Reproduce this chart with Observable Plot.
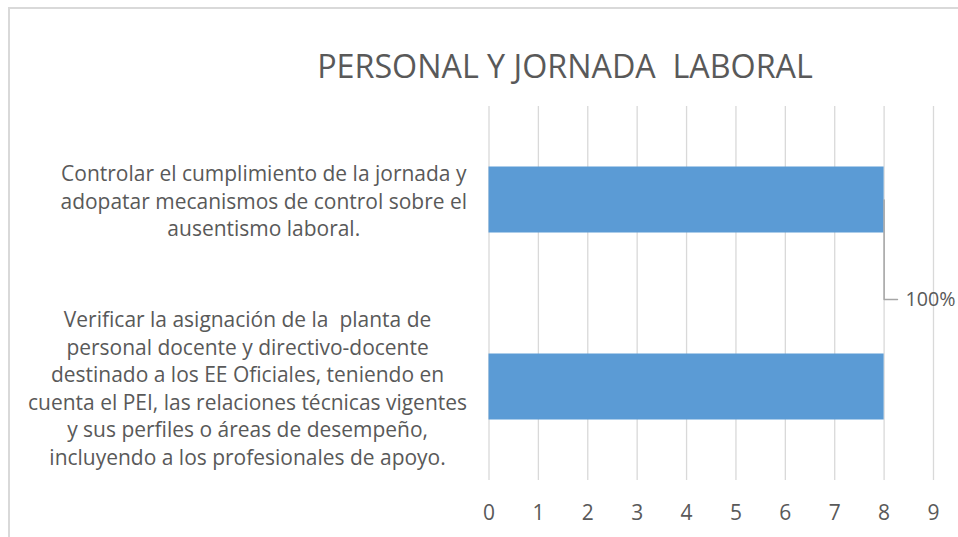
<!DOCTYPE html>
<html><head><meta charset="utf-8">
<script src="https://cdn.jsdelivr.net/npm/d3@7"></script>
<script src="https://cdn.jsdelivr.net/npm/@observablehq/plot@0.6"></script>
<style>
body{margin:0;background:#fff;}
#wrap{position:relative;width:958px;height:537px;overflow:hidden;font-family:"Open Sans",sans-serif;}
#frame{position:absolute;left:8px;top:7px;width:1000px;height:1000px;border:2px solid #d9d9d9;box-sizing:border-box;}
#title{position:absolute;left:0;width:1130px;top:47px;text-align:center;line-height:36px;color:#595959;white-space:pre;}
#chart{position:absolute;left:0;top:0;}
#chart svg{white-space:pre;}
</style>
</head><body>
<div id="wrap">
  <div id="frame"></div>
  <div id="title"></div>
  <div id="chart"></div>
</div>
<script>
const title = "PERSONAL Y JORNADA  LABORAL";
const categories = [
  "Verificar la asignación de la  planta de\npersonal docente y directivo-docente\ndestinado a los EE Oficiales, teniendo en\ncuenta el PEI, las relaciones técnicas vigentes\ny sus perfiles o áreas de desempeño,\nincluyendo a los profesionales de apoyo.",
  "Controlar el cumplimiento de la jornada y\nadopatar mecanismos de control sobre el\nausentismo laboral."
];
const values = [8, 8];
const dataLabels = [null, "100%"];
const xTicks = [0, 1, 2, 3, 4, 5, 6, 7, 8, 9];

const family = '"Open Sans"';
const ctx = document.createElement("canvas").getContext("2d");
const measure = (s, size) => { ctx.font = `${size}px ${family}`; return ctx.measureText(s).width; };
const blockW = (s, size) => d3.max(s.split("\n"), l => measure(l, size));

// font sizes chosen so text widths match the reference layout
const fs = 18 * 439 / blockW(categories[0], 18);
const fsTitle = 28 * 496 / measure(title, 28);
const fsLabel = Math.min(fs, 18 * 50 / measure("100%", 18));
const textColor = "#595959";

const t = document.getElementById("title");
t.textContent = title;
t.style.fontSize = fsTitle + "px";

const data = categories.map((c, i) => ({i, cat: c, value: values[i], label: dataLabels[i]}));
const labelled = data.filter(d => d.label != null);
// leader line from bar end down to the moved data label
const leader = labelled.flatMap(d => [
  {x: d.value, y: d.i, k: d.i},
  {x: d.value, y: d.i - 0.532, k: d.i},
  {x: d.value + 0.27, y: d.i - 0.532, k: d.i}
]);

const yAxes = data.map(d => Plot.axisY([d.i], {
  anchor: "left", tickSize: 0, tickPadding: 22 + blockW(d.cat, fs) / 2,
  textAnchor: "middle", tickFormat: i => categories[i], lineHeight: 27.5 / fs,
  fill: textColor, fontSize: fs, label: null
}));

const chart = Plot.plot({
  width: 958, height: 537,
  marginLeft: 488.5, marginRight: 25, marginTop: 106, marginBottom: 57,
  style: {fontFamily: "'Open Sans', sans-serif", background: "transparent"},
  x: {domain: [0, 9]},
  y: {domain: [-0.5, 1.5]},
  marks: [
    Plot.gridX(xTicks, {stroke: "#d9d9d9", strokeOpacity: 1, strokeWidth: 1.3}),
    Plot.rectX(data, {x1: d => 0, x2: "value", y1: d => d.i - 0.5, y2: d => d.i + 0.5, insetTop: 60.5, insetBottom: 60.5, fill: "#5b9bd5"}),
    Plot.line(leader, {x: "x", y: "y", z: "k", stroke: "#a6a6a6", strokeWidth: 1.5}),
    Plot.text(labelled, {x: d => d.value + 0.27, y: d => d.i - 0.532, text: "label", textAnchor: "start", dx: 8, fontSize: fsLabel, fill: textColor}),
    Plot.axisX(xTicks, {tickSize: 0, tickPadding: 25, fontSize: fs, fill: textColor, label: null}),
    ...yAxes
  ]
});
document.getElementById("chart").appendChild(chart);
</script>
</body></html>
